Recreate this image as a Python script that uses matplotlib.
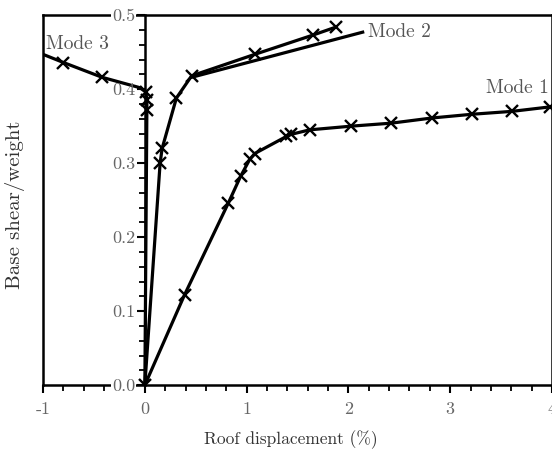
import numpy as np
import matplotlib
matplotlib.use("Agg")
from matplotlib import pyplot as plt
from matplotlib.ticker import MultipleLocator, FormatStrFormatter

plt.rcParams['font.family'] = ['cmr10', 'DejaVu Serif']
plt.rcParams['axes.unicode_minus'] = False
plt.rcParams['mathtext.fontset'] = 'cm'

mode1_x = [0.0, 0.39, 0.82, 0.94, 1.03, 1.08, 1.39, 1.44, 1.62, 2.03, 2.42, 2.82, 3.21, 3.61, 3.98]
mode1_y = [0.0, 0.122, 0.246, 0.282, 0.305, 0.313, 0.336, 0.339, 0.345, 0.350, 0.354, 0.361, 0.366, 0.370, 0.376]

mode2_x = [0.0, 0.15, 0.17, 0.31, 0.46, 1.08, 1.65, 1.88]
mode2_y = [0.0, 0.300, 0.320, 0.388, 0.418, 0.447, 0.473, 0.484]
mode2b_x = [0.46, 2.14]
mode2b_y = [0.416, 0.477]

mode3_x = [0.0, 0.02, 0.02, 0.01, -0.05, -0.42, -0.80, -1.0]
mode3_y = [0.0, 0.372, 0.385, 0.396, 0.402, 0.416, 0.436, 0.447]

fig = plt.figure(figsize=(5.52, 4.59), dpi=100)
ax = fig.add_axes([0.078, 0.161, 0.922, 0.806])

lw = 2.3
ms = 9
mew = 1.7
ax.plot(mode1_x, mode1_y, color='black', lw=lw, marker='x', ms=ms, mew=mew, zorder=4)
ax.plot(mode2_x, mode2_y, color='black', lw=lw, marker='x', ms=ms, mew=mew, zorder=4,
        markevery=list(range(1, len(mode2_x))))
ax.plot(mode2b_x, mode2b_y, color='black', lw=lw, zorder=4)
ax.plot(mode3_x, mode3_y, color='black', lw=lw, marker='x', ms=ms, mew=mew, zorder=4,
        markevery=[1, 2, 3, 5, 6])

ax.set_xlim(-1, 4)
ax.set_ylim(0, 0.5)

# y axis drawn through x = 0, frame closed by a line at x = -1
ax.spines['left'].set_position(('data', 0))
for s in ax.spines.values():
    s.set_linewidth(1.8)
ax.axvline(-1, color='black', lw=1.8, zorder=5, clip_on=False)

ax.xaxis.set_major_locator(MultipleLocator(1))
ax.xaxis.set_minor_locator(MultipleLocator(0.2))
ax.yaxis.set_major_locator(MultipleLocator(0.1))
ax.yaxis.set_minor_locator(MultipleLocator(0.02))
ax.yaxis.set_major_formatter(FormatStrFormatter('%.1f'))
ax.xaxis.set_major_formatter(FormatStrFormatter('%d'))

ax.tick_params(axis='both', which='major', direction='out', length=6, width=1.5,
               labelsize=13, labelcolor='#666666')
ax.tick_params(axis='both', which='minor', direction='out', length=4, width=1.3)
ax.tick_params(axis='y', which='major', pad=1)
ax.tick_params(axis='x', which='major', pad=6)

ax.text(-0.97, 0.461, 'Mode 3', fontsize=14, color='#555555', ha='left', va='center')
ax.text(2.19, 0.477, 'Mode 2', fontsize=14, color='#555555', ha='left', va='center')
ax.text(3.97, 0.401, 'Mode 1', fontsize=14, color='#555555', ha='right', va='center')

fig.text(0.527, 0.042, 'Roof displacement (%)', fontsize=12.5, color='#333333', ha='center', va='center')
fig.text(0.028, 0.553, 'Base shear/weight', fontsize=15, color='#333333', ha='center', va='center', rotation=90)

# only the end labels break the frame lines
fig.canvas.draw()
for lbl in ax.get_yticklabels():
    if lbl.get_text() in ('0.0', '0.5'):
        lbl.set_bbox(dict(facecolor='white', edgecolor='none', pad=0.5))
ax.yaxis.set_zorder(6)

fig.savefig('out.png', dpi=100)
